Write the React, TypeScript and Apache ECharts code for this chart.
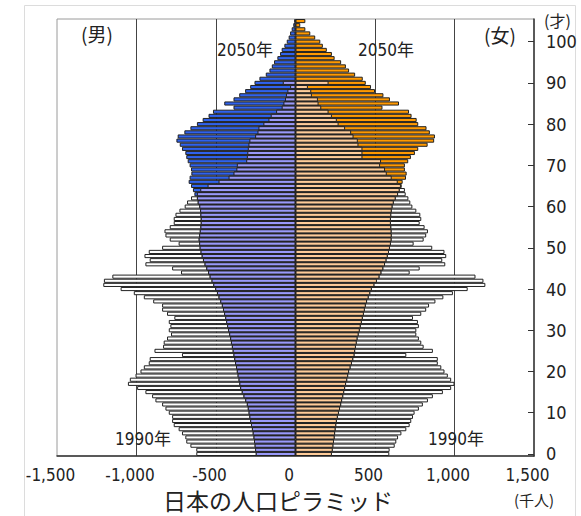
import React, { useEffect, useRef } from "react";
import * as echarts from "echarts";

// ages 0..105 (bottom to top)
const ages: string[] = Array.from({ length: 106 }, (_, i) => String(i));

// population in thousands, index = age
const male1990 = [
  624, 624, 661, 687, 693, 714, 735, 766, 776, 776,
  797, 818, 839, 881, 902, 944, 996, 1054, 1042, 1006,
  975, 954, 923, 917, 714, 887, 833, 829, 808, 783,
  797, 787, 797, 762, 808, 839, 839, 895, 954, 1017,
  1100, 1209, 1205, 1152, 720, 776, 944, 917, 950, 923,
  839, 735, 791, 818, 824, 791, 766, 766, 755, 730,
  697, 682, 657, 620, 599, 553, 484, 421, 390, 372,
  369, 310, 306, 303, 300, 296, 290, 254, 239, 233,
  202, 170, 156, 122, 87, 76, 66, 60, 51, 34,
  80, null, null, null, null, null, null, null, null, null,
  null, null, null, null, null, null,
];

const male2050 = [
  250, 254, 257, 261, 264, 269, 274, 280, 285, 290,
  295, 300, 306, 316, 327, 338, 348, 353, 358, 364,
  369, 374, 380, 385, 390, 395, 400, 406, 411, 417,
  424, 430, 436, 442, 449, 456, 463, 473, 484, 494,
  505, 517, 528, 540, 550, 561, 572, 582, 590, 597,
  603, 606, 609, 606, 602, 598, 596, 596, 598, 600,
  605, 615, 620, 636, 645, 657, 672, 666, 655, 657,
  666, 678, 687, 693, 714, 728, 749, 741, 699, 661,
  620, 584, 547, 519, 390, 448, 390, 354, 317, 285,
  258, 227, 187, 164, 149, 135, 114, 97, 87, 70,
  55, 43, 34, 24, 14, 8,
];

const female1990 = [
  590, 592, 624, 634, 645, 666, 697, 718, 728, 739,
  749, 776, 801, 833, 864, 927, 979, 1000, 979, 958,
  937, 917, 895, 895, 697, 864, 806, 791, 776, 760,
  760, 776, 770, 739, 791, 822, 840, 880, 930, 990,
  1083, 1194, 1182, 1132, 718, 781, 942, 923, 948, 937,
  860, 743, 806, 822, 833, 812, 781, 791, 785, 760,
  735, 722, 710, 693, 688, 663, 643, 605, 574, 563,
  532, 538, 421, 421, 421, 396, 392, 365, 350, 312,
  271, 260, 229, 208, 162, 145, 141, 103, 99, 78,
  208, null, null, null, null, null, null, null, null, null,
  null, null, null, null, null, null,
];

const female2050 = [
  229, 234, 238, 242, 246, 249, 252, 256, 260, 266,
  273, 280, 287, 293, 300, 306, 312, 318, 325, 331,
  337, 346, 355, 363, 371, 375, 380, 385, 390, 397,
  404, 410, 417, 423, 430, 436, 442, 450, 460, 470,
  480, 496, 512, 528, 540, 552, 563, 572, 580, 588,
  594, 600, 604, 605, 604, 602, 600, 600, 602, 605,
  610, 618, 630, 645, 655, 668, 674, 695, 699, 688,
  688, 709, 726, 751, 772, 831, 872, 877, 845, 824,
  772, 762, 730, 714, 547, 651, 594, 553, 500, 475,
  442, 423, 375, 337, 317, 287, 246, 229, 197, 172,
  156, 124, 93, 62, 30, 62,
];

const FONT_NUM = "'Liberation Sans Narrow', 'DejaVu Sans Condensed', 'Noto Sans CJK JP', sans-serif";
const FONT_JP = "'Noto Sans CJK JP', sans-serif";

export default function App() {
  const ref = useRef<HTMLDivElement>(null);

  useEffect(() => {
    if (!ref.current) return;
    const chart = echarts.init(ref.current, null, { renderer: "svg" });

    const neg = (a: (number | null)[]) => a.map((v) => (v == null ? null : -v));
    const minOf = (a: (number | null)[], b: (number | null)[]) =>
      a.map((v, i) => (v == null || b[i] == null ? null : Math.min(v, b[i] as number)));

    const border = { borderColor: "#222", borderWidth: 1 };
    const base: any = { type: "bar", barGap: "-100%", barCategoryGap: "0%", silent: true };

    const series: any[] = [
      { ...base, name: "男1990年", data: neg(male1990), itemStyle: { color: "#ffffff", ...border } },
      { ...base, name: "男2050年", data: neg(male2050), itemStyle: { color: "#2f62ee", ...border } },
      { ...base, name: "男共通", data: neg(minOf(male1990, male2050)), itemStyle: { color: "#9999fa", ...border } },
      { ...base, name: "女1990年", data: female1990, itemStyle: { color: "#ffffff", ...border } },
      { ...base, name: "女2050年", data: female2050, itemStyle: { color: "#ff9900", ...border } },
      { ...base, name: "女共通", data: minOf(female1990, female2050), itemStyle: { color: "#ffcc99", ...border } },
    ];

    const txt = (text: string, x: number, y: number, size: number, family: string, align = "left") => ({
      type: "text",
      x,
      y,
      z: 10,
      silent: true,
      style: {
        text,
        fontSize: size,
        fontFamily: family,
        fill: "#222",
        textAlign: align,
        textVerticalAlign: "middle",
      },
    });

    chart.setOption({
      animation: false,
      grid: {
        left: 57,
        right: 47,
        top: 19,
        bottom: 60,
        show: true,
        borderColor: "#9a9a9a",
        borderWidth: 1,
        backgroundColor: "transparent",
      },
      xAxis: {
        type: "value",
        min: -1500,
        max: 1500,
        interval: 500,
        axisLine: { show: true, onZero: false, lineStyle: { color: "#333", width: 1.5 } },
        axisTick: { show: false },
        axisLabel: {
          formatter: (v: number) => v.toLocaleString("en-US"),
          fontFamily: FONT_NUM,
          fontSize: 17,
          color: "#222",
          margin: 10,
          padding: [0, 13, 0, 0],
        },
        splitLine: {
          show: true,
          showMinLine: false,
          showMaxLine: false,
          lineStyle: { color: "#444", width: 1 },
        },
      },
      yAxis: {
        type: "category",
        data: ages,
        position: "right",
        boundaryGap: true,
        axisLine: { show: true, onZero: false, lineStyle: { color: "#333", width: 1.5 } },
        axisTick: {
          show: true,
          inside: true,
          length: 6,
          alignWithLabel: true,
          interval: 9,
          lineStyle: { color: "#333" },
        },
        axisLabel: { interval: 9, fontFamily: FONT_NUM, fontSize: 18, color: "#222", margin: 12 },
        splitLine: { show: false },
      },
      series,
      graphic: [
        {
          type: "rect",
          silent: true,
          z: 0,
          shape: { x: 24.5, y: 5.5, width: 551, height: 530 },
          style: { fill: "none", stroke: "#dcdcdc", lineWidth: 1 },
        },
        txt("(男)", 81, 33, 19, FONT_JP),
        txt("(女)", 484, 34, 19, FONT_JP),
        txt("(才)", 544, 20, 16, FONT_JP),
        txt("2050年", 217, 50, 17, FONT_NUM),
        txt("2050年", 358, 50, 17, FONT_NUM),
        txt("1990年", 115, 439, 17, FONT_NUM),
        txt("1990年", 428, 439, 17, FONT_NUM),
        txt("日本の人口ピラミッド", 278, 500, 23, FONT_JP, "center"),
        txt("(千人)", 514, 499, 15, FONT_JP),
      ],
    });

    return () => chart.dispose();
  }, []);

  return (
    <div
      ref={ref}
      style={{ position: "absolute", left: 0, top: 0, width: 581, height: 516 }}
    />
  );
}
